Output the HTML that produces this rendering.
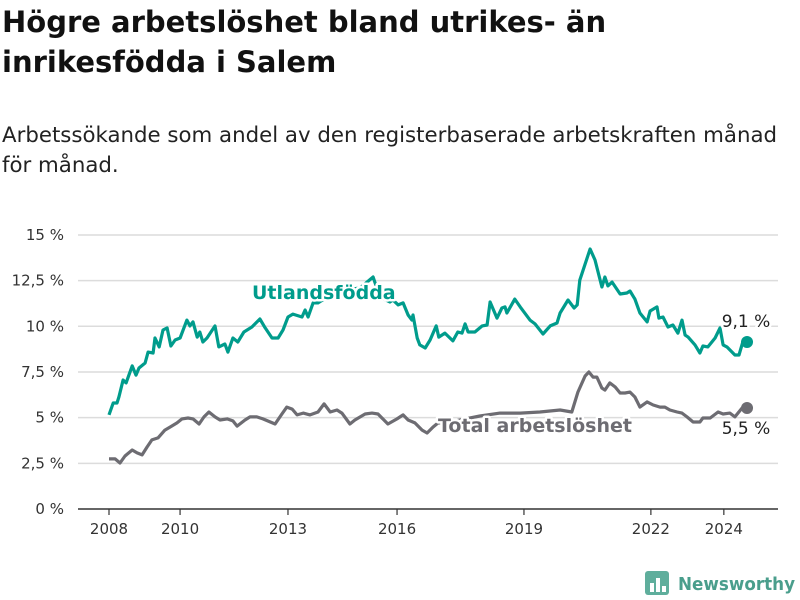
<!DOCTYPE html>
<html><head><meta charset="utf-8">
<style>
body{margin:0;background:#fff;font-family:"Liberation Sans","DejaVu Sans",sans-serif;}
#wrap{position:relative;width:800px;height:600px;overflow:hidden;}
h1{position:absolute;left:2px;top:2px;margin:0;font-size:29px;line-height:40px;font-weight:bold;color:#111;font-family:"DejaVu Sans","Liberation Sans",sans-serif;}
p.sub{position:absolute;left:2px;top:121px;margin:0;font-size:21.3px;line-height:30px;color:#222;font-family:"DejaVu Sans","Liberation Sans",sans-serif;white-space:nowrap}
svg text{font-family:"DejaVu Sans","Liberation Sans",sans-serif;}
</style></head><body>
<div id="wrap">
<h1>Högre arbetslöshet bland utrikes- än<br>inrikesfödda i Salem</h1>
<p class="sub">Arbetssökande som andel av den registerbaserade arbetskraften månad<br>för månad.</p>
<svg id="chart" width="800" height="600" style="position:absolute;left:0;top:0"></svg>
</div>
<script>
const baseYear = 2008;
const yTicks = [0, 2.5, 5, 7.5, 10, 12.5, 15];
const yTickLabels = ["0 %", "2,5 %", "5 %", "7,5 %", "10 %", "12,5 %", "15 %"];
const xTicks = [0, 1.87, 4.71, 7.58, 10.92, 14.26, 16.18];
const xTickLabels = ["2008", "2010", "2013", "2016", "2019", "2022", "2024"];
const tealT = [0,0.11,0.21,0.26,0.37,0.45,0.61,0.71,0.79,0.95,1.03,1.16,1.21,1.32,1.42,1.53,1.63,1.74,1.87,2.05,2.13,2.21,2.32,2.39,2.47,2.58,2.79,2.89,3.05,3.13,3.26,3.39,3.55,3.76,3.97,4.11,4.29,4.45,4.58,4.71,4.84,5.08,5.16,5.24,5.37,5.5,5.82,6.21,6.61,6.95,7.13,7.39,7.47,7.61,7.74,7.87,7.97,8.0,8.11,8.18,8.32,8.45,8.61,8.68,8.84,9.05,9.18,9.29,9.37,9.45,9.63,9.82,9.95,10.03,10.21,10.34,10.42,10.47,10.68,10.82,11.08,11.21,11.42,11.61,11.79,11.87,12.08,12.24,12.32,12.39,12.66,12.79,12.97,13.05,13.13,13.24,13.45,13.63,13.71,13.84,13.97,14.16,14.24,14.42,14.47,14.58,14.71,14.84,14.97,15.08,15.16,15.24,15.42,15.55,15.63,15.76,15.95,16.08,16.16,16.26,16.47,16.58,16.68,16.79];
const tealV = [5.15,5.8,5.8,6.13,7.06,6.9,7.83,7.33,7.72,7.99,8.59,8.54,9.36,8.87,9.8,9.91,8.92,9.25,9.36,10.34,10.02,10.24,9.41,9.69,9.14,9.36,10.02,8.87,9.03,8.59,9.36,9.14,9.69,9.96,10.4,9.91,9.36,9.36,9.8,10.51,10.67,10.51,10.89,10.51,11.28,11.28,11.71,11.99,12.1,12.7,11.6,11.33,11.44,11.17,11.28,10.62,10.34,10.62,9.36,8.98,8.81,9.25,10.02,9.41,9.63,9.2,9.69,9.63,10.13,9.69,9.69,10.02,10.07,11.33,10.45,11.0,11.06,10.73,11.49,11.06,10.34,10.13,9.58,10.02,10.18,10.73,11.44,11.0,11.17,12.53,14.23,13.63,12.15,12.7,12.21,12.42,11.77,11.82,11.93,11.49,10.73,10.24,10.84,11.06,10.45,10.51,9.96,10.07,9.63,10.34,9.52,9.41,8.98,8.54,8.92,8.87,9.36,9.91,8.98,8.87,8.43,8.43,9.14,9.14];
const grayT = [0,0.16,0.29,0.42,0.61,0.74,0.87,1.0,1.13,1.29,1.47,1.61,1.79,1.92,2.08,2.21,2.37,2.5,2.63,2.79,2.92,3.11,3.26,3.37,3.58,3.71,3.89,4.05,4.37,4.55,4.68,4.82,4.95,5.11,5.29,5.5,5.66,5.82,6.0,6.13,6.34,6.47,6.61,6.74,6.92,7.08,7.34,7.58,7.74,7.87,8.05,8.24,8.37,8.53,8.66,8.84,9.24,9.76,10.29,10.82,11.34,11.87,12.18,12.34,12.53,12.63,12.74,12.84,12.97,13.05,13.18,13.32,13.45,13.58,13.71,13.84,13.97,14.16,14.32,14.5,14.63,14.76,14.95,15.08,15.21,15.37,15.55,15.63,15.82,16.03,16.16,16.34,16.47,16.66,16.79];
const grayV = [2.74,2.74,2.52,2.9,3.23,3.07,2.96,3.39,3.78,3.89,4.32,4.49,4.71,4.93,4.98,4.93,4.65,5.04,5.31,5.04,4.87,4.93,4.82,4.54,4.87,5.04,5.04,4.93,4.65,5.2,5.58,5.47,5.15,5.25,5.15,5.31,5.75,5.31,5.42,5.25,4.65,4.87,5.04,5.2,5.25,5.2,4.65,4.93,5.15,4.87,4.71,4.32,4.16,4.49,4.71,4.71,4.87,5.09,5.25,5.25,5.31,5.42,5.31,6.4,7.28,7.5,7.22,7.22,6.62,6.51,6.9,6.68,6.35,6.35,6.4,6.13,5.58,5.86,5.69,5.58,5.58,5.42,5.31,5.25,5.04,4.76,4.76,4.98,4.98,5.31,5.2,5.25,5.04,5.53,5.53];

const NS = "http://www.w3.org/2000/svg";
const svg = document.getElementById('chart');
const x = t => 109 + t * 38;
const y = v => 509 - v * 18.27;
function mk(tag, attrs, parent) {
  const e = document.createElementNS(NS, tag);
  for (const k in attrs) e.setAttribute(k, attrs[k]);
  (parent || svg).appendChild(e);
  return e;
}
yTicks.forEach((v, i) => {
  if (v > 0) {
    const g = mk('line', {x1: 78, x2: 778, y1: y(v), y2: y(v), stroke: '#dcdcdc', 'stroke-width': 1.5});
    
    
  }
  const t = mk('text', {x: 64, y: y(v) + 5, 'text-anchor': 'end', 'font-size': 15, fill: '#333'});
  t.textContent = yTickLabels[i];
  
  
});
const ax = mk('line', {x1: 78, x2: 778, y1: 509, y2: 509, stroke: '#333', 'stroke-width': 1.5});


xTicks.forEach((t, i) => {
  const tk = mk('line', {x1: x(t), x2: x(t), y1: 509, y2: 515, stroke: '#333', 'stroke-width': 1.2});
  
  
  const lb = mk('text', {x: x(t), y: 534, 'text-anchor': 'middle', 'font-size': 15, fill: '#333'});
  lb.textContent = xTickLabels[i];
  
  
});
function line(T, V, color, name) {
  const d = T.map((t, i) => (i ? 'L' : 'M') + x(t).toFixed(1) + ',' + y(V[i]).toFixed(1)).join('');
  const p = mk('path', {d: d, fill: 'none', stroke: color, 'stroke-width': 3.2, 'stroke-linejoin': 'round'});
  
  
  const n = T.length - 1;
  const c = mk('circle', {cx: x(T[n]), cy: y(V[n]), r: 6, fill: color});
  
  
}
line(grayT, grayV, '#6d6c72', 'total-line');
line(tealT, tealV, '#009c8c', 'utlandsfodda-line');
function label(txt, lx, ly, color, name, bold, anchor) {
  const t = mk('text', {x: lx, y: ly, 'font-size': bold ? 19 : 17, 'font-weight': bold ? 'bold' : 'normal', fill: color, stroke: '#fff', 'stroke-width': 5, 'paint-order': 'stroke', 'stroke-linejoin': 'round', 'text-anchor': anchor || 'start'});
  t.textContent = txt;
  
  
}
label('Utlandsfödda', 252, 299, '#009c8c', 'utlandsfodda-label', true);
label('Total arbetslöshet', 438, 432, '#6d6c72', 'total-label', true);
label('9,1 %', 746, 327, '#222', 'utlandsfodda-end-value', false, 'middle');
label('5,5 %', 746, 434, '#222', 'total-end-value', false, 'middle');
const lg = mk('g', {});


mk('rect', {x: 645, y: 571, width: 24, height: 24, rx: 3, fill: '#5fae9c'}, lg);
[[650, 583, 4, 9], [656, 578, 4, 14], [662, 586, 4, 6]].forEach(b => mk('rect', {x: b[0], y: b[1], width: b[2], height: b[3], fill: '#fff'}, lg));
const lt = mk('text', {x: 678, y: 590, 'font-size': 18, 'font-weight': 'bold', fill: '#4a9e8c', textLength: 117, lengthAdjust: 'spacingAndGlyphs'}, lg);
lt.textContent = 'Newsworthy';
</script>
</body></html>
